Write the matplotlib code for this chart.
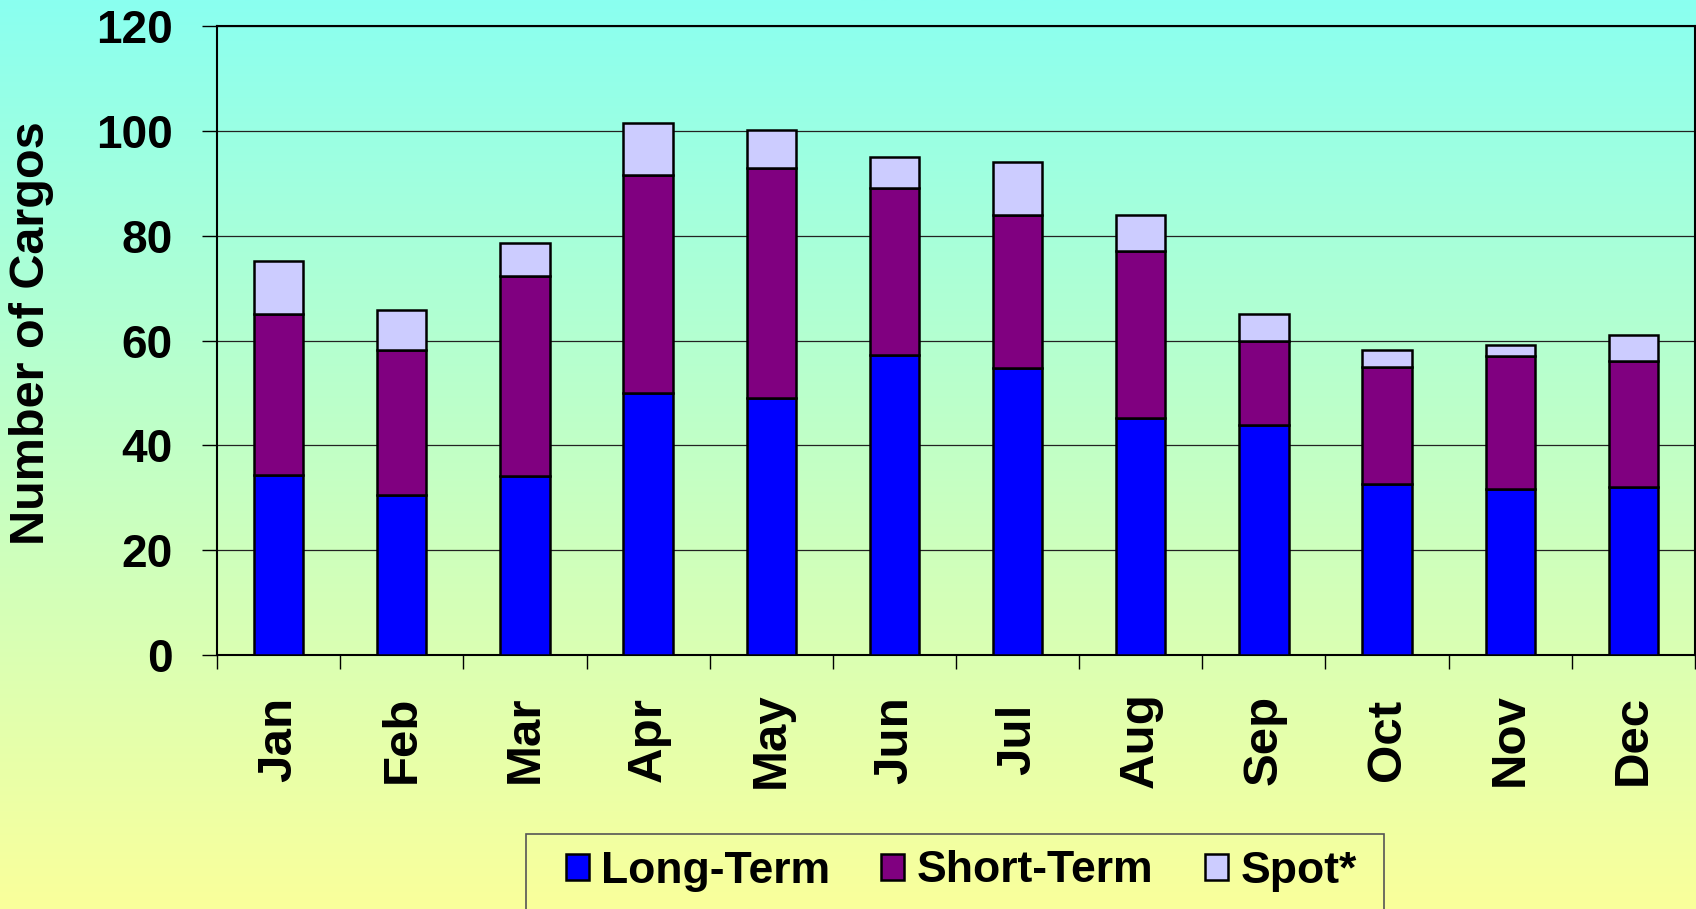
import numpy as np
import matplotlib
matplotlib.use("Agg")
import matplotlib.pyplot as plt
from matplotlib.patches import Rectangle
from matplotlib.colors import to_rgb

months = ["Jan", "Feb", "Mar", "Apr", "May", "Jun", "Jul", "Aug", "Sep", "Oct", "Nov", "Dec"]
long_term = [34.3, 30.5, 34.2, 50.0, 49.0, 57.3, 54.7, 45.3, 43.9, 32.6, 31.7, 32.0]
short_term = [30.8, 27.6, 38.2, 41.6, 44.0, 31.7, 29.3, 31.7, 16.1, 22.4, 25.4, 24.0]
spot = [10.0, 7.7, 6.2, 9.8, 7.1, 6.0, 10.1, 7.0, 5.1, 3.1, 2.0, 5.1]
series_names = ["Long-Term", "Short-Term", "Spot*"]
series_colors = ["#0000FF", "#800080", "#CCCCFF"]
yticks = [0, 20, 40, 60, 80, 100, 120]

FONT = ["Liberation Sans", "DejaVu Sans"]
plt.rcParams['font.family'] = FONT
plt.rcParams['font.weight'] = 'bold'

W, H = 1696, 909
fig = plt.figure(figsize=(W / 100, H / 100), dpi=100)

# gradient background
bg = fig.add_axes([0, 0, 1, 1], zorder=-10)
top_c = np.array(to_rgb("#8AFFF0"))
bot_c = np.array(to_rgb("#FAFF9B"))
t = np.linspace(0, 1, 512)[:, None]
grad = (top_c[None, :] * (1 - t) + bot_c[None, :] * t)[:, None, :]
bg.imshow(grad, aspect='auto', extent=[0, 1, 0, 1], origin='upper')
bg.set_axis_off()

left, right, top, bottom = 217, 1695, 26, 655
ax = fig.add_axes([left / W, 1 - bottom / H, (right - left) / W, (bottom - top) / H])
ax.set_facecolor('none')

x = np.arange(len(months))
bw = 0.4
b0 = np.zeros(len(months))
for vals, name, col in zip([long_term, short_term, spot], series_names, series_colors):
    ax.bar(x, vals, bw, bottom=b0, color=col, edgecolor='black', linewidth=1.8,
           label=name, zorder=3)
    b0 = b0 + np.array(vals)

ax.set_xlim(-0.5, len(months) - 0.5)
ax.set_ylim(0, 120)
ax.set_yticks(yticks)
ax.set_yticklabels([str(v) for v in yticks], fontsize=33, fontweight='bold')
ax.yaxis.grid(True, color='#222222', linewidth=0.9)
ax.set_axisbelow(True)
ax.tick_params(axis='y', direction='out', length=10.8, width=1, pad=21, color='black')

ax.set_xticks(x)
ax.set_xticklabels(months, fontsize=35.5, fontweight='bold', rotation=90)
for lbl in ax.get_xticklabels():
    lbl.set_va('center')
ax.tick_params(axis='x', which='major', length=0, pad=61)
ax.set_xticks(np.arange(-0.5, len(months), 1.0), minor=True)
ax.tick_params(axis='x', which='minor', direction='out', length=10, width=1, color='black')

for s in ax.spines.values():
    s.set_color('black')
    s.set_linewidth(1.5)

fig.text(32 / W, 1 - 333 / H, "Number of Cargos", rotation=90, ha='center', va='center',
         fontsize=35, fontweight='bold')

# legend frame
fig.patches.append(Rectangle((526 / W, 1 - 925 / H), (1384 - 526) / W, (925 - 834) / H,
                             transform=fig.transFigure, facecolor='none',
                             edgecolor='#555555', linewidth=1.2))
handles, labels = ax.get_legend_handles_labels()
leg = fig.legend(handles, labels, loc='center', bbox_to_anchor=(961 / W, 1 - 871 / H),
                 ncol=3, frameon=False, prop={'size': 32, 'weight': 'bold'},
                 handlelength=0.52, handleheight=0.52, handletextpad=0.28,
                 columnspacing=1.15, borderpad=0)

fig.savefig("out.png", dpi=100)
